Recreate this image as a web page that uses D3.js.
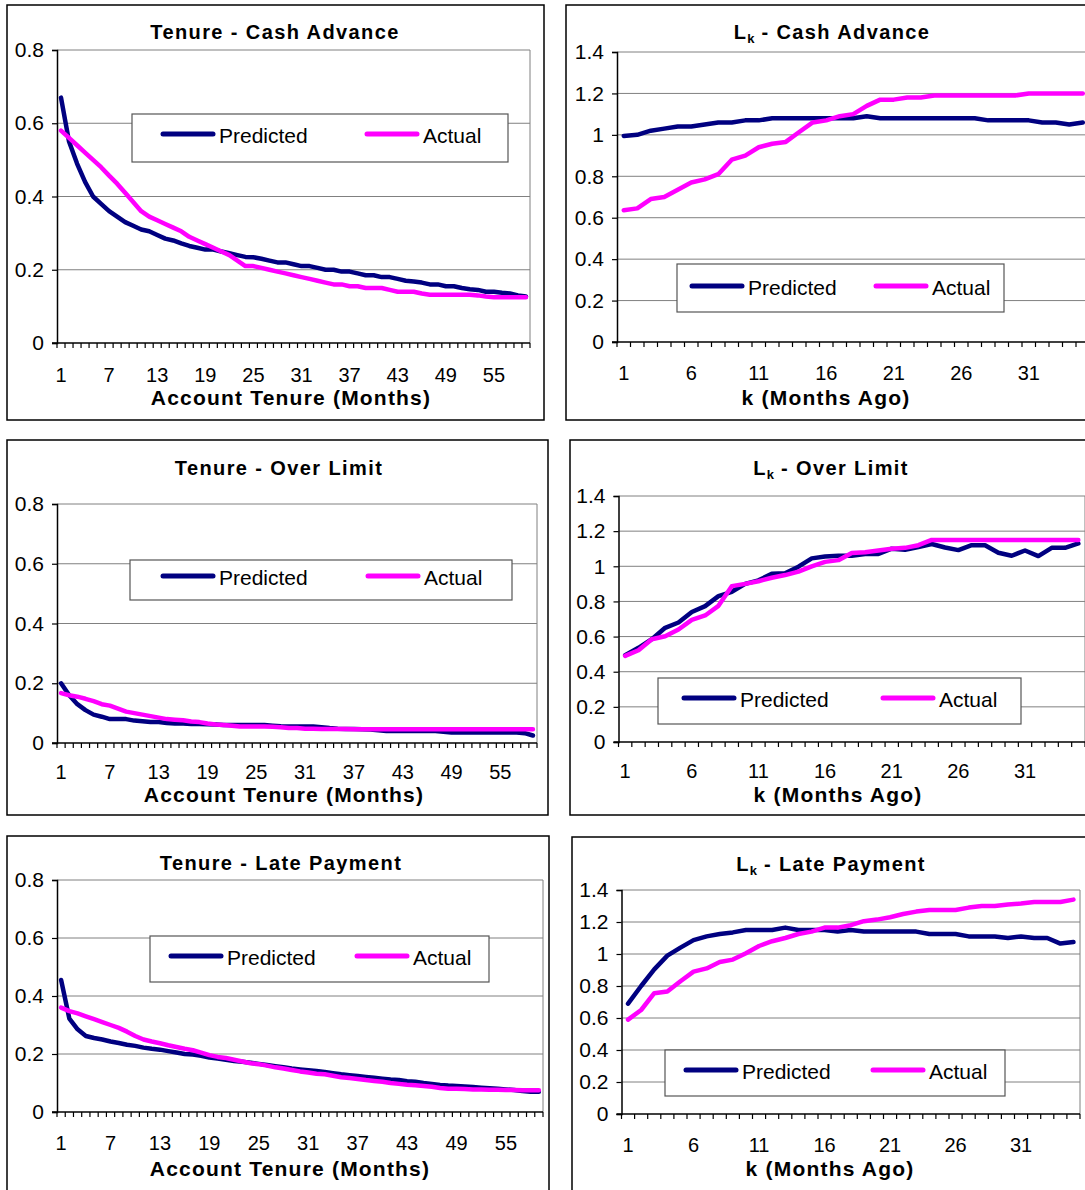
<!DOCTYPE html>
<html>
<head>
<meta charset="utf-8">
<script src="https://cdn.jsdelivr.net/npm/d3@7"></script>
<style>
  body { margin: 0; background: #fff; }
  svg { display: block; font-family: "Liberation Sans", Arial, sans-serif; }
</style>
</head>
<body>
<svg id="chart" width="1085" height="1190"></svg>
<script>
let navy = "#000080";
let magenta = "#FF00FF";
let gridGray = "#808080";

// categories
const tenureMonths = d3.range(1, 60);   // 1..59
const lagMonths = d3.range(1, 36);      // 1..35

const tenureTickLabels = [1, 7, 13, 19, 25, 31, 37, 43, 49, 55];
const lagTickLabels = [1, 6, 11, 16, 21, 26, 31];

const tenureYTicks = [0, 0.2, 0.4, 0.6, 0.8];
const lagYTicks = [0, 0.2, 0.4, 0.6, 0.8, 1, 1.2, 1.4];

// Tenure - Cash Advance
const tenureCashPredicted = [0.67, 0.55, 0.49, 0.44, 0.40, 0.38, 0.36, 0.345, 0.33, 0.32,
  0.31, 0.305, 0.295, 0.285, 0.28, 0.272, 0.265, 0.26, 0.255, 0.255,
  0.25, 0.245, 0.24, 0.235, 0.234, 0.23, 0.225, 0.22, 0.22, 0.215,
  0.21, 0.21, 0.205, 0.2, 0.2, 0.195, 0.195, 0.19, 0.185, 0.185,
  0.18, 0.18, 0.175, 0.17, 0.168, 0.165, 0.16, 0.16, 0.155, 0.155,
  0.15, 0.147, 0.145, 0.14, 0.14, 0.137, 0.135, 0.13, 0.127];
const tenureCashActual = [0.58, 0.56, 0.54, 0.52, 0.50, 0.48, 0.457, 0.435, 0.41, 0.385,
  0.36, 0.345, 0.335, 0.325, 0.315, 0.305, 0.29, 0.28, 0.27, 0.26,
  0.25, 0.24, 0.225, 0.21, 0.21, 0.205, 0.2, 0.195, 0.19, 0.185,
  0.18, 0.175, 0.17, 0.165, 0.16, 0.16, 0.155, 0.155, 0.15, 0.15,
  0.15, 0.145, 0.14, 0.14, 0.14, 0.135, 0.132, 0.132, 0.132, 0.132,
  0.132, 0.132, 0.13, 0.127, 0.125, 0.125, 0.125, 0.125, 0.125];

// Lk - Cash Advance
const lagCashPredicted = [0.995, 1.0, 1.02, 1.03, 1.04, 1.04, 1.05, 1.06, 1.06, 1.07,
  1.07, 1.08, 1.08, 1.08, 1.08, 1.08, 1.08, 1.08, 1.09, 1.08,
  1.08, 1.08, 1.08, 1.08, 1.08, 1.08, 1.08, 1.07, 1.07, 1.07,
  1.07, 1.06, 1.06, 1.05, 1.06];
const lagCashActual = [0.636, 0.645, 0.69, 0.70, 0.735, 0.77, 0.785, 0.81, 0.88, 0.90,
  0.94, 0.957, 0.966, 1.014, 1.06, 1.07, 1.09, 1.10, 1.14, 1.17,
  1.17, 1.18, 1.18, 1.19, 1.19, 1.19, 1.19, 1.19, 1.19, 1.19,
  1.2, 1.2, 1.2, 1.2, 1.2];

// Tenure - Over Limit
const tenureOverPredicted = [0.2, 0.16, 0.13, 0.11, 0.095, 0.088, 0.08, 0.08, 0.08, 0.075,
  0.073, 0.07, 0.07, 0.067, 0.065, 0.065, 0.064, 0.064, 0.063, 0.062,
  0.06, 0.06, 0.06, 0.06, 0.06, 0.06, 0.058, 0.056, 0.055, 0.055,
  0.055, 0.055, 0.053, 0.05, 0.048, 0.047, 0.047, 0.046, 0.045, 0.043,
  0.04, 0.04, 0.04, 0.04, 0.04, 0.04, 0.04, 0.038, 0.035, 0.035,
  0.035, 0.035, 0.035, 0.035, 0.035, 0.035, 0.035, 0.033, 0.025];
const tenureOverActual = [0.167, 0.16, 0.155, 0.148, 0.14, 0.13, 0.125, 0.115, 0.105, 0.1,
  0.095, 0.09, 0.085, 0.08, 0.078, 0.076, 0.072, 0.07, 0.065, 0.062,
  0.06, 0.058, 0.055, 0.055, 0.055, 0.055, 0.054, 0.053, 0.05, 0.05,
  0.048, 0.048, 0.047, 0.047, 0.047, 0.047, 0.046, 0.046, 0.046, 0.046,
  0.046, 0.046, 0.046, 0.046, 0.046, 0.046, 0.046, 0.046, 0.046, 0.046,
  0.046, 0.046, 0.046, 0.046, 0.046, 0.046, 0.046, 0.046, 0.046];

// Lk - Over Limit
const lagOverPredicted = [0.494, 0.536, 0.585, 0.65, 0.68, 0.74, 0.773, 0.83, 0.855, 0.9,
  0.92, 0.957, 0.96, 0.998, 1.045, 1.056, 1.06, 1.06, 1.07, 1.07,
  1.1, 1.094, 1.11, 1.127, 1.107, 1.092, 1.12, 1.12, 1.077, 1.06,
  1.09, 1.058, 1.105, 1.105, 1.13];
const lagOverActual = [0.49, 0.522, 0.585, 0.602, 0.64, 0.695, 0.72, 0.775, 0.887, 0.9,
  0.915, 0.935, 0.95, 0.97, 1.0, 1.025, 1.035, 1.075, 1.08, 1.09,
  1.1, 1.105, 1.12, 1.15, 1.15, 1.15, 1.15, 1.15, 1.15, 1.15,
  1.15, 1.15, 1.15, 1.15, 1.15];

// Tenure - Late Payment
const tenureLatePredicted = [0.455, 0.322, 0.285, 0.262, 0.255, 0.25, 0.243, 0.238, 0.232, 0.228,
  0.222, 0.218, 0.215, 0.21, 0.205, 0.2, 0.198, 0.194, 0.188, 0.184,
  0.18, 0.176, 0.173, 0.17, 0.166, 0.162, 0.158, 0.154, 0.15, 0.147,
  0.144, 0.141, 0.138, 0.134, 0.13, 0.127, 0.124, 0.121, 0.118, 0.115,
  0.112, 0.11, 0.106, 0.104, 0.1, 0.097, 0.093, 0.091, 0.09, 0.088,
  0.086, 0.084, 0.082, 0.08, 0.078, 0.076, 0.072, 0.07, 0.07];
const tenureLateActual = [0.36, 0.348, 0.34, 0.33, 0.32, 0.31, 0.3, 0.29, 0.277, 0.262,
  0.25, 0.243, 0.237, 0.23, 0.224, 0.218, 0.213, 0.205, 0.196, 0.19,
  0.186, 0.18, 0.174, 0.168, 0.165, 0.16, 0.154, 0.15, 0.145, 0.14,
  0.136, 0.132, 0.13, 0.125, 0.12, 0.117, 0.114, 0.11, 0.107, 0.104,
  0.1, 0.097, 0.094, 0.092, 0.09, 0.087, 0.083, 0.08, 0.08, 0.079,
  0.078, 0.078, 0.077, 0.077, 0.076, 0.076, 0.075, 0.075, 0.075];

// Lk - Late Payment
const lagLatePredicted = [0.69, 0.8, 0.904, 0.99, 1.04, 1.087, 1.11, 1.125, 1.135, 1.15,
  1.15, 1.15, 1.165, 1.15, 1.15, 1.15, 1.14, 1.15, 1.14, 1.14,
  1.14, 1.14, 1.14, 1.125, 1.125, 1.125, 1.11, 1.11, 1.11, 1.1,
  1.11, 1.1, 1.1, 1.065, 1.075];
const lagLateActual = [0.59, 0.65, 0.755, 0.765, 0.83, 0.89, 0.91, 0.95, 0.965, 1.005,
  1.05, 1.08, 1.1, 1.125, 1.14, 1.165, 1.165, 1.18, 1.205, 1.215,
  1.23, 1.25, 1.265, 1.275, 1.275, 1.275, 1.29, 1.3, 1.3, 1.31,
  1.315, 1.325, 1.325, 1.325, 1.34];

// layout of each panel (positions only)
const panels = [
  { title: "Tenure - Cash Advance", sub: false, xTitle: "Account Tenure (Months)",
    cats: tenureMonths, ticks: tenureTickLabels, yTicks: tenureYTicks, yMax: 0.8,
    pred: tenureCashPredicted, act: tenureCashActual,
    box: [7, 5, 537, 415], plot: [57, 50, 530, 343], titleXY: [275, 32], xTitleXY: [291, 397], labelDy: 32,
    legend: [132, 114, 376, 48], legendY: 134, predX: 163, actX: 367 },
  { title: " - Cash Advance", sub: true, xTitle: "k (Months Ago)",
    cats: lagMonths, ticks: lagTickLabels, yTicks: lagYTicks, yMax: 1.4,
    pred: lagCashPredicted, act: lagCashActual,
    box: [566, 5, 540, 415], plot: [617, 52, 1089.5, 342], titleXY: [832, 32], xTitleXY: [826, 397], labelDy: 31,
    legend: [677, 264, 327, 48], legendY: 286, predX: 692, actX: 876 },
  { title: "Tenure - Over Limit", sub: false, xTitle: "Account Tenure (Months)",
    cats: tenureMonths, ticks: tenureTickLabels, yTicks: tenureYTicks, yMax: 0.8,
    pred: tenureOverPredicted, act: tenureOverActual,
    box: [7, 440, 541, 375], plot: [57, 504, 537, 743], titleXY: [279, 468], xTitleXY: [284, 794], labelDy: 29,
    legend: [130, 560, 382, 40], legendY: 576, predX: 163, actX: 368 },
  { title: " - Over Limit", sub: true, xTitle: "k (Months Ago)",
    cats: lagMonths, ticks: lagTickLabels, yTicks: lagYTicks, yMax: 1.4,
    pred: lagOverPredicted, act: lagOverActual,
    box: [570, 440, 540, 375], plot: [618.5, 496, 1085, 742], titleXY: [831, 468], xTitleXY: [838, 794], labelDy: 29,
    legend: [658, 678, 363, 46], legendY: 698, predX: 684, actX: 883 },
  { title: "Tenure - Late Payment", sub: false, xTitle: "Account Tenure (Months)",
    cats: tenureMonths, ticks: tenureTickLabels, yTicks: tenureYTicks, yMax: 0.8,
    pred: tenureLatePredicted, act: tenureLateActual,
    box: [7, 836, 542, 380], plot: [57, 880, 543, 1112], titleXY: [281, 863], xTitleXY: [290, 1168], labelDy: 31,
    legend: [150, 936, 339, 46], legendY: 956, predX: 171, actX: 357 },
  { title: " - Late Payment", sub: true, xTitle: "k (Months Ago)",
    cats: lagMonths, ticks: lagTickLabels, yTicks: lagYTicks, yMax: 1.4,
    pred: lagLatePredicted, act: lagLateActual,
    box: [572, 837, 540, 380], plot: [621.5, 890, 1080, 1114], titleXY: [831, 864], xTitleXY: [830, 1168], labelDy: 31,
    legend: [665, 1050, 340, 46], legendY: 1070, predX: 686, actX: 873 }
];

const svg = d3.select("#chart");

panels.forEach(p => drawPanel(p));

function drawPanel(p) {
  const g = svg.append("g");
  const [pl, pt, pr, pb] = p.plot;

  // outer frame
  g.append("rect")
    .attr("x", p.box[0]).attr("y", p.box[1])
    .attr("width", p.box[2]).attr("height", p.box[3])
    .attr("fill", "none").attr("stroke", "#000").attr("stroke-width", 1.5);

  const xScale = d3.scaleBand().domain(p.cats).range([pl, pr]).padding(0);
  const yScale = d3.scaleLinear().domain([0, p.yMax]).range([pb, pt]);
  const cx = d => xScale(d) + xScale.bandwidth() / 2;

  // gridlines
  g.selectAll(".grid")
    .data(p.yTicks.filter(v => v > 0))
    .enter()
    .append("line")
    .attr("x1", pl).attr("x2", pr)
    .attr("y1", d => yScale(d)).attr("y2", d => yScale(d))
    .attr("stroke", gridGray).attr("stroke-width", 1);

  // right edge of plot area
  g.append("line")
    .attr("x1", pr).attr("x2", pr).attr("y1", pt).attr("y2", pb)
    .attr("stroke", gridGray).attr("stroke-width", 1);

  // y axis
  const yAxis = g.append("g")
    .attr("transform", `translate(${pl},0)`)
    .call(d3.axisLeft(yScale).tickValues(p.yTicks).tickSize(5).tickPadding(8)
      .tickFormat(d => d3.format("~g")(d)));
  yAxis.select(".domain").attr("stroke", "#000").attr("stroke-width", 1.5);
  yAxis.selectAll(".tick line").attr("stroke", "#000").attr("stroke-width", 1.2);
  yAxis.selectAll(".tick text")
    .style("font-size", "21px").style("font-family", "Liberation Sans, Arial, sans-serif")
    .attr("fill", "#000");

  // x axis: ticks at category boundaries
  const boundaries = p.cats.map(c => xScale(c)).concat([pr]);
  g.selectAll(".xtick")
    .data(boundaries)
    .enter()
    .append("line")
    .attr("x1", d => d).attr("x2", d => d)
    .attr("y1", pb).attr("y2", pb + 5)
    .attr("stroke", "#000").attr("stroke-width", 1.2);
  g.append("line")
    .attr("x1", pl - 5).attr("x2", pr).attr("y1", pb).attr("y2", pb)
    .attr("stroke", "#000").attr("stroke-width", 1.5);

  g.selectAll(".xlabel")
    .data(p.ticks)
    .enter()
    .append("text")
    .attr("x", d => cx(d))
    .attr("y", pb + p.labelDy)
    .attr("text-anchor", "middle")
    .attr("dominant-baseline", "central")
    .style("font-size", "20px")
    .text(d => d);

  // legend box
  const [lx, ly, lw, lh] = p.legend;
  g.append("rect")
    .attr("x", lx).attr("y", ly).attr("width", lw).attr("height", lh)
    .attr("fill", "#fff").attr("stroke", "#555").attr("stroke-width", 1.2);
  const lcy = p.legendY;
  const items = [
    { name: "Predicted", color: navy, x: p.predX },
    { name: "Actual", color: magenta, x: p.actX }
  ];
  items.forEach(it => {
    g.append("line")
      .attr("x1", it.x).attr("x2", it.x + 50)
      .attr("y1", lcy).attr("y2", lcy)
      .attr("stroke", it.color).attr("stroke-width", 5)
      .attr("stroke-linecap", "round");
    g.append("text")
      .attr("x", it.x + 56).attr("y", lcy + 1)
      .attr("dominant-baseline", "central")
      .style("font-size", "21px")
      .text(it.name);
  });

  // series
  const line = d3.line()
    .x((d, i) => cx(p.cats[i]))
    .y(d => yScale(d));

  g.append("path")
    .datum(p.pred)
    .attr("d", line)
    .attr("fill", "none").attr("stroke", navy)
    .attr("stroke-width", 4.5).attr("stroke-linejoin", "round").attr("stroke-linecap", "round");

  g.append("path")
    .datum(p.act)
    .attr("d", line)
    .attr("fill", "none").attr("stroke", magenta)
    .attr("stroke-width", 4.5).attr("stroke-linejoin", "round").attr("stroke-linecap", "round");

  // titles
  const t = g.append("text")
    .attr("x", p.titleXY[0]).attr("y", p.titleXY[1])
    .attr("text-anchor", "middle")
    .attr("dominant-baseline", "central")
    .style("font-size", "20px").style("font-weight", "bold")
    .style("letter-spacing", "1.4px");
  if (p.sub) {
    t.append("tspan").text("L");
    t.append("tspan").attr("dy", 6).style("font-size", "13px").style("letter-spacing", "0px").text("k");
    t.append("tspan").attr("dy", -6).text(p.title);
  } else {
    t.text(p.title);
  }

  g.append("text")
    .attr("x", p.xTitleXY[0]).attr("y", p.xTitleXY[1])
    .attr("text-anchor", "middle")
    .attr("dominant-baseline", "central")
    .style("font-size", "21px").style("font-weight", "bold")
    .style("letter-spacing", "1.2px")
    .text(p.xTitle);
}
</script>
</body>
</html>
